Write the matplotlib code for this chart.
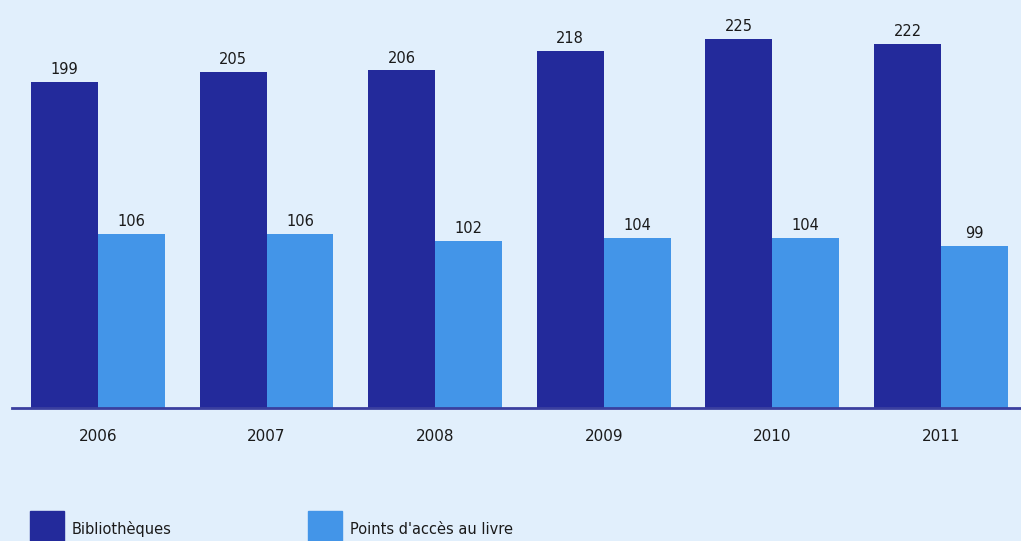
import numpy as np
import matplotlib.pyplot as plt
from matplotlib.patches import Rectangle

years = ['2006', '2007', '2008', '2009', '2010', '2011']
bibliotheques = [199, 205, 206, 218, 225, 222]
points_acces = [106, 106, 102, 104, 104, 99]

bg = '#e1effc'
dark = '#232a9b'
light = '#4395e8'
txt = '#1a1a1a'

W, H = 1021, 541
fig = plt.figure(figsize=(W / 100, H / 100), dpi=100, facecolor=bg)
ax = fig.add_axes([12 / W, (H - 408) / H, 1 - 12 / W, 408 / H])
ax.set_facecolor(bg)

x = np.arange(len(years))
w = 0.397
b1 = ax.bar(x - w / 2, bibliotheques, w, color=dark)
b2 = ax.bar(x + w / 2, points_acces, w, color=light)

for bars in (b1, b2):
    for r in bars:
        ax.text(r.get_x() + r.get_width() / 2, r.get_height() + 3, str(int(r.get_height())),
                ha='center', va='bottom', fontsize=10.5, color=txt)

ax.set_xlim(-0.51, 5.475)
ax.set_ylim(0, 249)
for s in ['top', 'right', 'left']:
    ax.spines[s].set_visible(False)
ax.spines['bottom'].set_color('#3a3f9f')
ax.spines['bottom'].set_linewidth(2)
ax.set_yticks([])
ax.set_xticks(x)
ax.set_xticklabels(years, fontsize=11, color=txt)
ax.tick_params(axis='x', length=0, pad=15)

# legend swatches
for px, col, label in [(30, dark, 'Bibliothèques'), (308, light, "Points d'accès au livre")]:
    fig.patches.append(Rectangle((px / W, 0), 34 / W, 30 / H, transform=fig.transFigure,
                                 color=col, zorder=3))
    fig.text((px + 42) / W, (H - 529) / H, label, fontsize=10.5, color=txt, va='center')

fig.savefig('out.png', dpi=100, facecolor=bg)
